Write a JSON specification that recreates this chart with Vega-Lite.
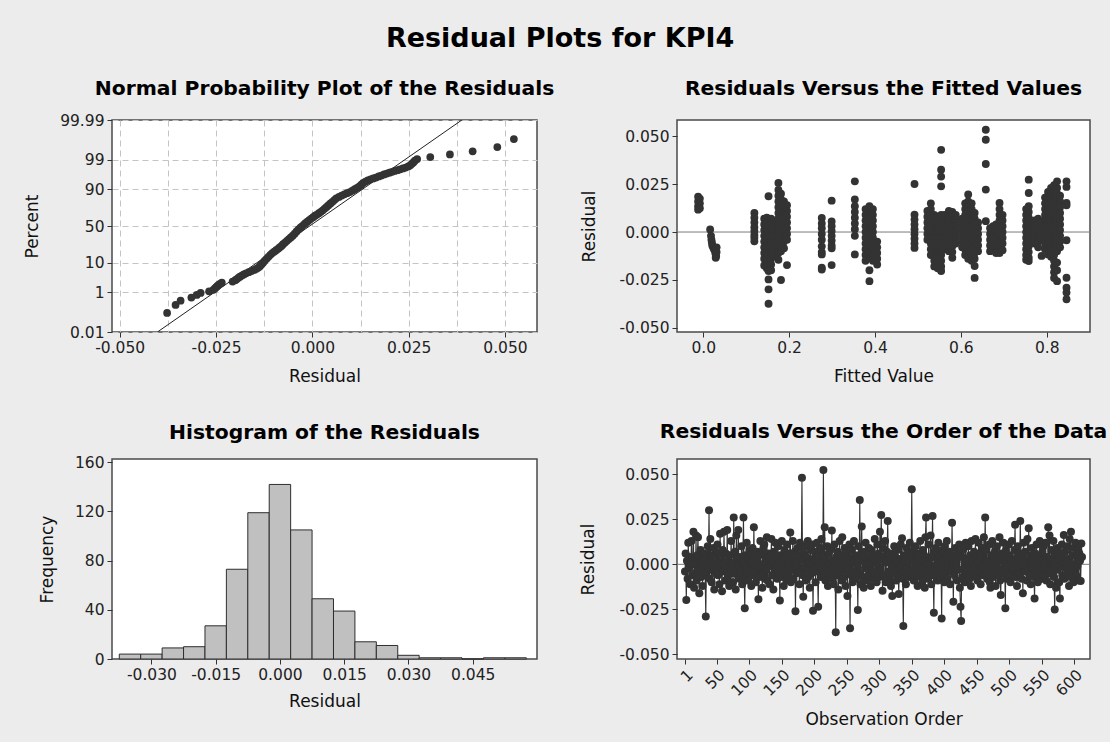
{
  "$schema": "https://vega.github.io/schema/vega-lite/v6.json",
  "background": "#ECECEC",
  "padding": {"left": 22, "top": 25, "right": 2, "bottom": 14},
  "title": {"text": "Residual Plots for KPI4", "fontSize": 27, "anchor": "middle", "frame": "bounds", "baseline": "alphabetic", "dx": -5, "offset": 3.8},
  "columns": 2,
  "spacing": {"row": 127, "column": 140},
  "bounds": "flush",
  "datasets": {
    "ord": [
      {"o":1,"r":-0.004},{"o":2,"r":0.006},{"o":3,"r":-0.0198},{"o":4,"r":0.002},{"o":5,"r":-0.008},{"o":6,"r":0.012},{"o":7,"r":-0.002},{"o":8,"r":0.004},{"o":9,"r":-0.011},{"o":10,"r":0.001},
      {"o":11,"r":0.013},{"o":12,"r":-0.006},{"o":13,"r":0.003},{"o":14,"r":0.018},{"o":15,"r":-0.013},{"o":16,"r":0},{"o":17,"r":-0.005},{"o":18,"r":0.016},{"o":19,"r":-0.009},{"o":20,"r":0.005},
      {"o":21,"r":0.015},{"o":22,"r":-0.003},{"o":23,"r":-0.016},{"o":24,"r":0.002},{"o":25,"r":0.008},{"o":26,"r":-0.007},{"o":27,"r":0.001},{"o":28,"r":-0.012},{"o":29,"r":0.004},{"o":30,"r":-0.002},
      {"o":31,"r":0.006},{"o":32,"r":-0.006},{"o":33,"r":-0.029},{"o":34,"r":0.003},{"o":35,"r":-0.004},{"o":36,"r":0.010},{"o":37,"r":-0.001},{"o":38,"r":0.030},{"o":39,"r":-0.008},{"o":40,"r":0.014},
      {"o":41,"r":0.002},{"o":42,"r":-0.010},{"o":43,"r":0.005},{"o":44,"r":-0.003},{"o":45,"r":0.009},{"o":46,"r":-0.014},{"o":47,"r":0.001},{"o":48,"r":-0.005},{"o":49,"r":0.007},{"o":50,"r":-0.002},
      {"o":51,"r":0.011},{"o":52,"r":-0.006},{"o":53,"r":0.003},{"o":54,"r":-0.011},{"o":55,"r":0.017},{"o":56,"r":-0.001},{"o":57,"r":0.004},{"o":58,"r":-0.015},{"o":59,"r":0.008},{"o":60,"r":-0.004},
      {"o":61,"r":0.018},{"o":62,"r":0},{"o":63,"r":-0.009},{"o":64,"r":0.006},{"o":65,"r":-0.003},{"o":66,"r":0.019},{"o":67,"r":-0.007},{"o":68,"r":0.002},{"o":69,"r":-0.012},{"o":70,"r":0.005},
      {"o":71,"r":-0.002},{"o":72,"r":0.013},{"o":73,"r":-0.005},{"o":74,"r":0.001},{"o":75,"r":-0.010},{"o":76,"r":0.026},{"o":77,"r":-0.003},{"o":78,"r":0.007},{"o":79,"r":-0.014},{"o":80,"r":0.016},
      {"o":81,"r":0.003},{"o":82,"r":-0.006},{"o":83,"r":0.019},{"o":84,"r":-0.001},{"o":85,"r":-0.008},{"o":86,"r":0.004},{"o":87,"r":-0.004},{"o":88,"r":0.010},{"o":89,"r":-0.011},{"o":90,"r":0.002},
      {"o":91,"r":0.026},{"o":92,"r":-0.007},{"o":93,"r":-0.0244},{"o":94,"r":0.005},{"o":95,"r":-0.002},{"o":96,"r":0.012},{"o":97,"r":-0.009},{"o":98,"r":0.003},{"o":99,"r":-0.005},{"o":100,"r":0.008},
      {"o":101,"r":-0.003},{"o":102,"r":0.006},{"o":103,"r":-0.012},{"o":104,"r":0.001},{"o":105,"r":0.009},{"o":106,"r":-0.006},{"o":107,"r":0.0205},{"o":108,"r":-0.004},{"o":109,"r":0.004},{"o":110,"r":-0.010},
      {"o":111,"r":0.002},{"o":112,"r":0.007},{"o":113,"r":-0.001},{"o":114,"r":-0.0194},{"o":115,"r":0.005},{"o":116,"r":-0.007},{"o":117,"r":0.013},{"o":118,"r":-0.002},{"o":119,"r":0},{"o":120,"r":-0.013},
      {"o":121,"r":0.008},{"o":122,"r":-0.005},{"o":123,"r":0.011},{"o":124,"r":-0.008},{"o":125,"r":0.003},{"o":126,"r":-0.003},{"o":127,"r":0.015},{"o":128,"r":-0.009},{"o":129,"r":0.001},{"o":130,"r":0.006},
      {"o":131,"r":-0.011},{"o":132,"r":0.004},{"o":133,"r":-0.001},{"o":134,"r":0.014},{"o":135,"r":-0.006},{"o":136,"r":0.002},{"o":137,"r":-0.014},{"o":138,"r":0.007},{"o":139,"r":-0.004},{"o":140,"r":0.012},
      {"o":141,"r":-0.002},{"o":142,"r":0.003},{"o":143,"r":-0.008},{"o":144,"r":0.010},{"o":145,"r":-0.005},{"o":146,"r":0.001},{"o":147,"r":-0.020},{"o":148,"r":0.005},{"o":149,"r":-0.003},{"o":150,"r":0.013},
      {"o":151,"r":-0.007},{"o":152,"r":0.002},{"o":153,"r":-0.012},{"o":154,"r":0.008},{"o":155,"r":-0.001},{"o":156,"r":0.004},{"o":157,"r":-0.009},{"o":158,"r":0.011},{"o":159,"r":-0.004},{"o":160,"r":0},
      {"o":161,"r":-0.006},{"o":162,"r":0.006},{"o":163,"r":0.0177},{"o":164,"r":-0.010},{"o":165,"r":0.003},{"o":166,"r":-0.003},{"o":167,"r":0.013},{"o":168,"r":-0.008},{"o":169,"r":0.001},{"o":170,"r":0.007},
      {"o":171,"r":-0.026},{"o":172,"r":0.002},{"o":173,"r":-0.005},{"o":174,"r":0.009},{"o":175,"r":-0.002},{"o":176,"r":0.005},{"o":177,"r":-0.011},{"o":178,"r":0.012},{"o":179,"r":-0.004},{"o":180,"r":0.003},
      {"o":181,"r":0.048},{"o":182,"r":-0.006},{"o":183,"r":-0.018},{"o":184,"r":0.006},{"o":185,"r":-0.001},{"o":186,"r":0.010},{"o":187,"r":-0.009},{"o":188,"r":0.004},{"o":189,"r":-0.003},{"o":190,"r":0.013},
      {"o":191,"r":-0.007},{"o":192,"r":0.001},{"o":193,"r":-0.013},{"o":194,"r":0.008},{"o":195,"r":0},{"o":196,"r":-0.005},{"o":197,"r":0.011},{"o":198,"r":-0.0257},{"o":199,"r":0.003},{"o":200,"r":-0.002},
      {"o":201,"r":0.007},{"o":202,"r":-0.010},{"o":203,"r":0.002},{"o":204,"r":0.012},{"o":205,"r":-0.004},{"o":206,"r":-0.0235},{"o":207,"r":0.005},{"o":208,"r":-0.001},{"o":209,"r":0.009},{"o":210,"r":-0.007},
      {"o":211,"r":0.014},{"o":212,"r":-0.003},{"o":213,"r":0.001},{"o":214,"r":0.0523},{"o":215,"r":-0.006},{"o":216,"r":0.0205},{"o":217,"r":-0.009},{"o":218,"r":0.003},{"o":219,"r":-0.002},{"o":220,"r":0.010},
      {"o":221,"r":-0.012},{"o":222,"r":0.006},{"o":223,"r":0},{"o":224,"r":-0.005},{"o":225,"r":0.008},{"o":226,"r":-0.008},{"o":227,"r":0.0187},{"o":228,"r":-0.003},{"o":229,"r":0.002},{"o":230,"r":-0.011},
      {"o":231,"r":0.011},{"o":232,"r":-0.001},{"o":233,"r":-0.0377},{"o":234,"r":0.004},{"o":235,"r":-0.006},{"o":236,"r":0.007},{"o":237,"r":-0.014},{"o":238,"r":0.001},{"o":239,"r":0.013},{"o":240,"r":-0.004},
      {"o":241,"r":0.005},{"o":242,"r":-0.009},{"o":243,"r":0.015},{"o":244,"r":-0.002},{"o":245,"r":0.003},{"o":246,"r":-0.007},{"o":247,"r":0.009},{"o":248,"r":-0.012},{"o":249,"r":0},{"o":250,"r":0.006},
      {"o":251,"r":-0.0176},{"o":252,"r":0.004},{"o":253,"r":-0.003},{"o":254,"r":0.011},{"o":255,"r":-0.0355},{"o":256,"r":0.002},{"o":257,"r":-0.006},{"o":258,"r":0.008},{"o":259,"r":-0.010},{"o":260,"r":0.001},
      {"o":261,"r":0.013},{"o":262,"r":-0.004},{"o":263,"r":0.005},{"o":264,"r":-0.008},{"o":265,"r":0.003},{"o":266,"r":-0.001},{"o":267,"r":-0.0253},{"o":268,"r":0.010},{"o":269,"r":-0.005},{"o":270,"r":0.0357},
      {"o":271,"r":-0.011},{"o":272,"r":0.006},{"o":273,"r":0.021},{"o":274,"r":-0.007},{"o":275,"r":0.002},{"o":276,"r":-0.013},{"o":277,"r":0.007},{"o":278,"r":-0.002},{"o":279,"r":0.012},{"o":280,"r":-0.009},
      {"o":281,"r":0},{"o":282,"r":0.004},{"o":283,"r":-0.006},{"o":284,"r":0.009},{"o":285,"r":-0.003},{"o":286,"r":0.001},{"o":287,"r":-0.012},{"o":288,"r":0.008},{"o":289,"r":-0.004},{"o":290,"r":0.005},
      {"o":291,"r":-0.008},{"o":292,"r":0.003},{"o":293,"r":0.014},{"o":294,"r":-0.005},{"o":295,"r":0.002},{"o":296,"r":-0.010},{"o":297,"r":0.011},{"o":298,"r":-0.001},{"o":299,"r":0.006},{"o":300,"r":-0.007},
      {"o":301,"r":0.018},{"o":302,"r":-0.003},{"o":303,"r":0.0274},{"o":304,"r":0.004},{"o":305,"r":-0.0146},{"o":306,"r":0.009},{"o":307,"r":-0.006},{"o":308,"r":0.002},{"o":309,"r":0.013},{"o":310,"r":-0.010},
      {"o":311,"r":0.001},{"o":312,"r":0.007},{"o":313,"r":0.024},{"o":314,"r":-0.004},{"o":315,"r":0.005},{"o":316,"r":-0.008},{"o":317,"r":0.003},{"o":318,"r":-0.012},{"o":319,"r":0},{"o":320,"r":-0.0176},
      {"o":321,"r":0.006},{"o":322,"r":-0.002},{"o":323,"r":0.010},{"o":324,"r":-0.005},{"o":325,"r":0.004},{"o":326,"r":-0.009},{"o":327,"r":0.001},{"o":328,"r":0.008},{"o":329,"r":-0.003},{"o":330,"r":-0.0165},
      {"o":331,"r":0.003},{"o":332,"r":-0.006},{"o":333,"r":0.011},{"o":334,"r":-0.001},{"o":335,"r":0.0144},{"o":336,"r":-0.008},{"o":337,"r":-0.0342},{"o":338,"r":0.005},{"o":339,"r":-0.004},{"o":340,"r":0.002},
      {"o":341,"r":-0.011},{"o":342,"r":0.009},{"o":343,"r":-0.002},{"o":344,"r":0.006},{"o":345,"r":-0.007},{"o":346,"r":0.001},{"o":347,"r":0.012},{"o":348,"r":-0.005},{"o":349,"r":0.004},{"o":350,"r":0.0416},
      {"o":351,"r":-0.003},{"o":352,"r":0.007},{"o":353,"r":-0.009},{"o":354,"r":0.002},{"o":355,"r":-0.006},{"o":356,"r":0.010},{"o":357,"r":-0.001},{"o":358,"r":0.004},{"o":359,"r":-0.012},{"o":360,"r":0.006},
      {"o":361,"r":-0.004},{"o":362,"r":0.001},{"o":363,"r":0.013},{"o":364,"r":-0.007},{"o":365,"r":0.003},{"o":366,"r":-0.010},{"o":367,"r":0.008},{"o":368,"r":-0.002},{"o":369,"r":0.005},{"o":370,"r":-0.013},
      {"o":371,"r":0.015},{"o":372,"r":0.026},{"o":373,"r":-0.005},{"o":374,"r":0.002},{"o":375,"r":-0.008},{"o":376,"r":0.011},{"o":377,"r":0},{"o":378,"r":-0.003},{"o":379,"r":0.016},{"o":380,"r":-0.011},
      {"o":381,"r":0.004},{"o":382,"r":0.0268},{"o":383,"r":-0.006},{"o":384,"r":-0.0268},{"o":385,"r":0.007},{"o":386,"r":-0.001},{"o":387,"r":0.009},{"o":388,"r":-0.004},{"o":389,"r":0.003},{"o":390,"r":-0.009},
      {"o":391,"r":0.012},{"o":392,"r":-0.002},{"o":393,"r":0.005},{"o":394,"r":-0.007},{"o":395,"r":0.001},{"o":396,"r":-0.030},{"o":397,"r":0.008},{"o":398,"r":-0.003},{"o":399,"r":0.006},{"o":400,"r":-0.010},
      {"o":401,"r":0.010},{"o":402,"r":-0.005},{"o":403,"r":0.003},{"o":404,"r":0.013},{"o":405,"r":-0.008},{"o":406,"r":0.001},{"o":407,"r":-0.002},{"o":408,"r":0.007},{"o":409,"r":-0.011},{"o":410,"r":0.004},
      {"o":411,"r":-0.004},{"o":412,"r":0.0231},{"o":413,"r":0},{"o":414,"r":-0.0207},{"o":415,"r":0.005},{"o":416,"r":-0.006},{"o":417,"r":0.009},{"o":418,"r":-0.001},{"o":419,"r":0.002},{"o":420,"r":-0.009},
      {"o":421,"r":0.006},{"o":422,"r":-0.003},{"o":423,"r":0.011},{"o":424,"r":-0.013},{"o":425,"r":-0.0235},{"o":426,"r":-0.0314},{"o":427,"r":0.004},{"o":428,"r":-0.007},{"o":429,"r":0.008},{"o":430,"r":-0.002},
      {"o":431,"r":0.001},{"o":432,"r":-0.010},{"o":433,"r":0.012},{"o":434,"r":-0.004},{"o":435,"r":0.003},{"o":436,"r":-0.006},{"o":437,"r":0.010},{"o":438,"r":0},{"o":439,"r":-0.008},{"o":440,"r":0.005},
      {"o":441,"r":-0.012},{"o":442,"r":0.013},{"o":443,"r":-0.003},{"o":444,"r":0.002},{"o":445,"r":-0.005},{"o":446,"r":0.007},{"o":447,"r":-0.001},{"o":448,"r":0.014},{"o":449,"r":-0.007},{"o":450,"r":0.004},
      {"o":451,"r":-0.009},{"o":452,"r":0.001},{"o":453,"r":0.012},{"o":454,"r":-0.004},{"o":455,"r":0.006},{"o":456,"r":-0.011},{"o":457,"r":0.003},{"o":458,"r":-0.002},{"o":459,"r":0.009},{"o":460,"r":-0.006},
      {"o":461,"r":0.015},{"o":462,"r":0},{"o":463,"r":0.026},{"o":464,"r":-0.005},{"o":465,"r":0.008},{"o":466,"r":-0.008},{"o":467,"r":0.002},{"o":468,"r":-0.003},{"o":469,"r":0.011},{"o":470,"r":-0.010},
      {"o":471,"r":-0.013},{"o":472,"r":0.005},{"o":473,"r":-0.001},{"o":474,"r":0.013},{"o":475,"r":-0.007},{"o":476,"r":0.004},{"o":477,"r":-0.004},{"o":478,"r":0.007},{"o":479,"r":-0.012},{"o":480,"r":0.001},
      {"o":481,"r":0.010},{"o":482,"r":-0.002},{"o":483,"r":0.003},{"o":484,"r":-0.006},{"o":485,"r":0.015},{"o":486,"r":-0.009},{"o":487,"r":-0.017},{"o":488,"r":0.006},{"o":489,"r":-0.003},{"o":490,"r":0.002},
      {"o":491,"r":0.012},{"o":492,"r":-0.005},{"o":493,"r":0},{"o":494,"r":-0.0244},{"o":495,"r":0.008},{"o":496,"r":-0.008},{"o":497,"r":0.004},{"o":498,"r":-0.001},{"o":499,"r":0.011},{"o":500,"r":-0.004},
      {"o":501,"r":0.005},{"o":502,"r":-0.010},{"o":503,"r":0.002},{"o":504,"r":0.013},{"o":505,"r":-0.006},{"o":506,"r":0.001},{"o":507,"r":-0.003},{"o":508,"r":0.008},{"o":509,"r":0.022},{"o":510,"r":-0.007},
      {"o":511,"r":0.003},{"o":512,"r":-0.012},{"o":513,"r":0.010},{"o":514,"r":-0.002},{"o":515,"r":0.006},{"o":516,"r":-0.005},{"o":517,"r":0.024},{"o":518,"r":0},{"o":519,"r":-0.008},{"o":520,"r":0.004},
      {"o":521,"r":-0.016},{"o":522,"r":0.012},{"o":523,"r":-0.001},{"o":524,"r":0.007},{"o":525,"r":-0.004},{"o":526,"r":0.002},{"o":527,"r":-0.009},{"o":528,"r":0.014},{"o":529,"r":-0.003},{"o":530,"r":0.020},
      {"o":531,"r":-0.006},{"o":532,"r":0.005},{"o":533,"r":-0.011},{"o":534,"r":0.001},{"o":535,"r":0.009},{"o":536,"r":-0.002},{"o":537,"r":0.003},{"o":538,"r":-0.007},{"o":539,"r":-0.0189},{"o":540,"r":0.006},
      {"o":541,"r":-0.004},{"o":542,"r":0.011},{"o":543,"r":0},{"o":544,"r":-0.010},{"o":545,"r":0.004},{"o":546,"r":-0.005},{"o":547,"r":0.013},{"o":548,"r":-0.001},{"o":549,"r":0.002},{"o":550,"r":-0.008},
      {"o":551,"r":0.007},{"o":552,"r":-0.003},{"o":553,"r":0.010},{"o":554,"r":-0.006},{"o":555,"r":0.001},{"o":556,"r":0.012},{"o":557,"r":-0.009},{"o":558,"r":0.004},{"o":559,"r":-0.002},{"o":560,"r":0.0205},
      {"o":561,"r":-0.005},{"o":562,"r":0.016},{"o":563,"r":-0.011},{"o":564,"r":0.003},{"o":565,"r":0.008},{"o":566,"r":-0.004},{"o":567,"r":0},{"o":568,"r":0.013},{"o":569,"r":-0.007},{"o":570,"r":-0.025},
      {"o":571,"r":0.005},{"o":572,"r":-0.013},{"o":573,"r":0.002},{"o":574,"r":0.009},{"o":575,"r":-0.003},{"o":576,"r":0.006},{"o":577,"r":-0.010},{"o":578,"r":-0.019},{"o":579,"r":0.004},{"o":580,"r":-0.001},
      {"o":581,"r":0.011},{"o":582,"r":-0.006},{"o":583,"r":0.002},{"o":584,"r":0.0163},{"o":585,"r":-0.008},{"o":586,"r":0.007},{"o":587,"r":-0.002},{"o":588,"r":0.001},{"o":589,"r":0.010},{"o":590,"r":-0.005},
      {"o":591,"r":0.003},{"o":592,"r":-0.012},{"o":593,"r":0.014},{"o":594,"r":-0.004},{"o":595,"r":0.018},{"o":596,"r":-0.007},{"o":597,"r":0.005},{"o":598,"r":0},{"o":599,"r":-0.010},{"o":600,"r":0.009},
      {"o":601,"r":-0.003},{"o":602,"r":0.012},{"o":603,"r":-0.006},{"o":604,"r":0.004},{"o":605,"r":-0.001},{"o":606,"r":0.008},{"o":607,"r":-0.009},{"o":608,"r":0.006},{"o":609,"r":0.002},{"o":610,"r":-0.0092},
      {"o":611,"r":0.0116},{"o":612,"r":0.004}
    ],
    "fit": [
      {"f":-0.012,"r":0.0185},{"f":-0.012,"r":0.016},{"f":-0.012,"r":0.0135},{"f":-0.012,"r":0.0117},{"f":-0.008,"r":0.0175},{"f":-0.008,"r":0.015},{"f":-0.008,"r":0.0125},
      {"f":0.016,"r":0.0013},{"f":0.018,"r":-0.002},{"f":0.019,"r":-0.004},{"f":0.02,"r":-0.0055},{"f":0.021,"r":-0.007},{"f":0.023,"r":-0.008},{"f":0.025,"r":-0.009},{"f":0.027,"r":-0.0095},{"f":0.028,"r":-0.011},{"f":0.03,"r":-0.0125},{"f":0.029,"r":-0.0135},{"f":0.031,"r":-0.008},{"f":0.031,"r":-0.0105},
      {"f":0.119,"r":0.010},{"f":0.119,"r":0.0075},{"f":0.119,"r":0.005},{"f":0.119,"r":0.0025},{"f":0.119,"r":0.0005},{"f":0.119,"r":-0.0015},{"f":0.119,"r":-0.003},{"f":0.119,"r":-0.0048},
      {"f":0.142,"r":0.007},{"f":0.142,"r":0.004},{"f":0.142,"r":0.001},{"f":0.142,"r":-0.002},{"f":0.142,"r":-0.005},{"f":0.142,"r":-0.008},{"f":0.142,"r":-0.011},{"f":0.142,"r":-0.014},{"f":0.142,"r":-0.0175},
      {"f":0.148,"r":0.0075},{"f":0.148,"r":0.0045},{"f":0.148,"r":0.0015},{"f":0.148,"r":-0.0015},{"f":0.148,"r":-0.0045},{"f":0.148,"r":-0.0075},{"f":0.148,"r":-0.0105},{"f":0.148,"r":-0.0135},{"f":0.148,"r":-0.0165},{"f":0.148,"r":-0.019},
      {"f":0.152,"r":0.0187},{"f":0.152,"r":0.006},{"f":0.152,"r":0.003},{"f":0.152,"r":0},{"f":0.152,"r":-0.003},{"f":0.152,"r":-0.006},{"f":0.152,"r":-0.009},{"f":0.152,"r":-0.012},{"f":0.152,"r":-0.015},{"f":0.152,"r":-0.018},{"f":0.152,"r":-0.0204},{"f":0.152,"r":-0.0248},{"f":0.152,"r":-0.030},{"f":0.152,"r":-0.0375},
      {"f":0.158,"r":0.007},{"f":0.158,"r":0.004},{"f":0.158,"r":0.001},{"f":0.158,"r":-0.002},{"f":0.158,"r":-0.005},{"f":0.158,"r":-0.008},{"f":0.158,"r":-0.011},{"f":0.158,"r":-0.014},{"f":0.158,"r":-0.017},{"f":0.158,"r":-0.020},
      {"f":0.164,"r":0.006},{"f":0.164,"r":0.003},{"f":0.164,"r":0},{"f":0.164,"r":-0.003},{"f":0.164,"r":-0.006},{"f":0.164,"r":-0.009},{"f":0.164,"r":-0.012},
      {"f":0.175,"r":0.0257},{"f":0.175,"r":0.022},{"f":0.175,"r":0.019},{"f":0.175,"r":0.016},{"f":0.175,"r":0.013},{"f":0.175,"r":0.010},{"f":0.175,"r":0.007},{"f":0.175,"r":0.004},{"f":0.175,"r":0.001},{"f":0.175,"r":-0.002},{"f":0.175,"r":-0.005},{"f":0.175,"r":-0.008},{"f":0.175,"r":-0.011},{"f":0.175,"r":-0.0145},
      {"f":0.181,"r":0.020},{"f":0.181,"r":0.017},{"f":0.181,"r":0.014},{"f":0.181,"r":0.011},{"f":0.181,"r":0.008},{"f":0.181,"r":0.005},{"f":0.181,"r":0.002},{"f":0.181,"r":-0.001},{"f":0.181,"r":-0.004},{"f":0.181,"r":-0.007},{"f":0.181,"r":-0.010},{"f":0.181,"r":-0.0251},
      {"f":0.188,"r":0.016},{"f":0.188,"r":0.013},{"f":0.188,"r":0.010},{"f":0.188,"r":0.007},{"f":0.188,"r":0.004},{"f":0.188,"r":0.001},{"f":0.188,"r":-0.002},{"f":0.188,"r":-0.005},{"f":0.188,"r":-0.0085},
      {"f":0.195,"r":0.014},{"f":0.195,"r":0.011},{"f":0.195,"r":0.008},{"f":0.195,"r":0.005},{"f":0.195,"r":0.002},{"f":0.195,"r":-0.001},{"f":0.195,"r":-0.004},{"f":0.195,"r":-0.0173},
      {"f":0.276,"r":0.0074},{"f":0.276,"r":0.0045},{"f":0.276,"r":0.002},{"f":0.276,"r":-0.001},{"f":0.276,"r":-0.004},{"f":0.276,"r":-0.0075},{"f":0.276,"r":-0.0105},{"f":0.276,"r":-0.0117},{"f":0.276,"r":-0.0187},{"f":0.276,"r":-0.0196},
      {"f":0.299,"r":0.0164},{"f":0.299,"r":0.0055},{"f":0.299,"r":0.003},{"f":0.299,"r":0.0005},{"f":0.299,"r":-0.002},{"f":0.299,"r":-0.0045},{"f":0.299,"r":-0.007},{"f":0.299,"r":-0.0085},{"f":0.299,"r":-0.0173},
      {"f":0.353,"r":0.0265},{"f":0.353,"r":0.017},{"f":0.353,"r":0.0135},{"f":0.353,"r":0.0105},{"f":0.353,"r":0.0075},{"f":0.353,"r":0.0045},{"f":0.353,"r":0.0015},{"f":0.353,"r":-0.002},{"f":0.353,"r":-0.0117},
      {"f":0.378,"r":0.012},{"f":0.378,"r":0.009},{"f":0.378,"r":0.006},{"f":0.378,"r":0.003},{"f":0.378,"r":0},{"f":0.378,"r":-0.003},{"f":0.378,"r":-0.006},{"f":0.378,"r":-0.009},{"f":0.378,"r":-0.012},{"f":0.378,"r":-0.015},
      {"f":0.387,"r":0.0135},{"f":0.387,"r":0.0105},{"f":0.387,"r":0.0075},{"f":0.387,"r":0.0045},{"f":0.387,"r":0.0015},{"f":0.387,"r":-0.0015},{"f":0.387,"r":-0.0045},{"f":0.387,"r":-0.0075},{"f":0.387,"r":-0.0105},{"f":0.387,"r":-0.0135},{"f":0.387,"r":-0.020},{"f":0.387,"r":-0.0257},
      {"f":0.395,"r":0.012},{"f":0.395,"r":0.009},{"f":0.395,"r":0.006},{"f":0.395,"r":0.003},{"f":0.395,"r":0},{"f":0.395,"r":-0.003},{"f":0.395,"r":-0.006},{"f":0.395,"r":-0.009},{"f":0.395,"r":-0.012},{"f":0.395,"r":-0.015},
      {"f":0.405,"r":-0.005},{"f":0.405,"r":-0.008},{"f":0.405,"r":-0.011},{"f":0.405,"r":-0.014},{"f":0.405,"r":-0.017},
      {"f":0.492,"r":0.0251},{"f":0.492,"r":0.0091},{"f":0.492,"r":0.0065},{"f":0.492,"r":0.004},{"f":0.492,"r":0.0015},{"f":0.492,"r":-0.001},{"f":0.492,"r":-0.0035},{"f":0.492,"r":-0.006},{"f":0.492,"r":-0.0083},
      {"f":0.522,"r":0.011},{"f":0.522,"r":0.008},{"f":0.522,"r":0.005},{"f":0.522,"r":0.002},{"f":0.522,"r":-0.001},{"f":0.522,"r":-0.004},
      {"f":0.53,"r":0.015},{"f":0.53,"r":0.012},{"f":0.53,"r":0.009},{"f":0.53,"r":0.006},{"f":0.53,"r":0.003},{"f":0.53,"r":0},{"f":0.53,"r":-0.003},{"f":0.53,"r":-0.006},{"f":0.53,"r":-0.009},{"f":0.53,"r":-0.012},
      {"f":0.538,"r":0.009},{"f":0.538,"r":0.006},{"f":0.538,"r":0.003},{"f":0.538,"r":0},{"f":0.538,"r":-0.003},{"f":0.538,"r":-0.006},{"f":0.538,"r":-0.009},{"f":0.538,"r":-0.012},{"f":0.538,"r":-0.015},{"f":0.538,"r":-0.018},
      {"f":0.546,"r":0.008},{"f":0.546,"r":0.005},{"f":0.546,"r":0.002},{"f":0.546,"r":-0.001},{"f":0.546,"r":-0.004},{"f":0.546,"r":-0.007},{"f":0.546,"r":-0.010},{"f":0.546,"r":-0.013},{"f":0.546,"r":-0.016},{"f":0.546,"r":-0.019},
      {"f":0.554,"r":0.043},{"f":0.554,"r":0.0326},{"f":0.554,"r":0.029},{"f":0.554,"r":0.0239},{"f":0.554,"r":0.009},{"f":0.554,"r":0.006},{"f":0.554,"r":0.003},{"f":0.554,"r":0},{"f":0.554,"r":-0.003},{"f":0.554,"r":-0.006},{"f":0.554,"r":-0.009},{"f":0.554,"r":-0.012},{"f":0.554,"r":-0.015},{"f":0.554,"r":-0.018},{"f":0.554,"r":-0.0204},
      {"f":0.562,"r":0.009},{"f":0.562,"r":0.006},{"f":0.562,"r":0.003},{"f":0.562,"r":0},{"f":0.562,"r":-0.003},{"f":0.562,"r":-0.006},{"f":0.562,"r":-0.009},
      {"f":0.572,"r":0.011},{"f":0.572,"r":0.008},{"f":0.572,"r":0.005},{"f":0.572,"r":0.002},{"f":0.572,"r":-0.001},{"f":0.572,"r":-0.004},{"f":0.572,"r":-0.007},{"f":0.572,"r":-0.010},
      {"f":0.58,"r":0.0105},{"f":0.58,"r":0.0075},{"f":0.58,"r":0.0045},{"f":0.58,"r":0.0015},{"f":0.58,"r":-0.0015},{"f":0.58,"r":-0.0045},{"f":0.58,"r":-0.0075},{"f":0.58,"r":-0.0105},{"f":0.58,"r":-0.0135},
      {"f":0.588,"r":0.009},{"f":0.588,"r":0.006},{"f":0.588,"r":0.003},{"f":0.588,"r":0},{"f":0.588,"r":-0.003},{"f":0.588,"r":-0.006},
      {"f":0.603,"r":0.007},{"f":0.603,"r":0.004},{"f":0.603,"r":0.001},{"f":0.603,"r":-0.002},{"f":0.603,"r":-0.005},{"f":0.603,"r":-0.008},
      {"f":0.61,"r":0.015},{"f":0.61,"r":0.012},{"f":0.61,"r":0.009},{"f":0.61,"r":0.006},{"f":0.61,"r":0.003},{"f":0.61,"r":0},{"f":0.61,"r":-0.003},{"f":0.61,"r":-0.006},{"f":0.61,"r":-0.009},{"f":0.61,"r":-0.012},
      {"f":0.617,"r":0.0196},{"f":0.617,"r":0.016},{"f":0.617,"r":0.013},{"f":0.617,"r":0.010},{"f":0.617,"r":0.007},{"f":0.617,"r":0.004},{"f":0.617,"r":0.001},{"f":0.617,"r":-0.002},{"f":0.617,"r":-0.005},{"f":0.617,"r":-0.008},{"f":0.617,"r":-0.011},{"f":0.617,"r":-0.014},
      {"f":0.625,"r":0.015},{"f":0.625,"r":0.012},{"f":0.625,"r":0.009},{"f":0.625,"r":0.006},{"f":0.625,"r":0.003},{"f":0.625,"r":0},{"f":0.625,"r":-0.003},{"f":0.625,"r":-0.006},{"f":0.625,"r":-0.009},{"f":0.625,"r":-0.012},{"f":0.625,"r":-0.015},
      {"f":0.632,"r":0.010},{"f":0.632,"r":0.007},{"f":0.632,"r":0.004},{"f":0.632,"r":0.001},{"f":0.632,"r":-0.002},{"f":0.632,"r":-0.005},{"f":0.632,"r":-0.008},{"f":0.632,"r":-0.011},{"f":0.632,"r":-0.014},{"f":0.632,"r":-0.0178},{"f":0.632,"r":-0.024},
      {"f":0.64,"r":0.005},{"f":0.64,"r":0.002},{"f":0.64,"r":-0.001},{"f":0.64,"r":-0.004},{"f":0.64,"r":-0.007},{"f":0.64,"r":-0.010},
      {"f":0.658,"r":0.0535},{"f":0.658,"r":0.0483},{"f":0.658,"r":0.0356},{"f":0.658,"r":0.0222},{"f":0.658,"r":0.0057},
      {"f":0.668,"r":0.002},{"f":0.668,"r":-0.001},{"f":0.668,"r":-0.004},{"f":0.668,"r":-0.007},{"f":0.668,"r":-0.010},
      {"f":0.675,"r":0.003},{"f":0.675,"r":0},{"f":0.675,"r":-0.003},{"f":0.675,"r":-0.006},{"f":0.675,"r":-0.009},
      {"f":0.682,"r":0.004},{"f":0.682,"r":0.001},{"f":0.682,"r":-0.002},{"f":0.682,"r":-0.005},{"f":0.682,"r":-0.008},{"f":0.682,"r":-0.011},
      {"f":0.69,"r":0.0152},{"f":0.69,"r":0.012},{"f":0.69,"r":0.009},{"f":0.69,"r":0.006},{"f":0.69,"r":0.003},{"f":0.69,"r":0},{"f":0.69,"r":-0.003},{"f":0.69,"r":-0.006},{"f":0.69,"r":-0.009},{"f":0.69,"r":-0.011},
      {"f":0.697,"r":0.009},{"f":0.697,"r":0.006},{"f":0.697,"r":0.003},{"f":0.697,"r":0},{"f":0.697,"r":-0.003},{"f":0.697,"r":-0.006},{"f":0.697,"r":-0.0095},
      {"f":0.752,"r":0.012},{"f":0.752,"r":0.009},{"f":0.752,"r":0.006},{"f":0.752,"r":0.003},{"f":0.752,"r":0},{"f":0.752,"r":-0.003},{"f":0.752,"r":-0.006},{"f":0.752,"r":-0.009},{"f":0.752,"r":-0.012},{"f":0.752,"r":-0.0145},
      {"f":0.758,"r":0.0274},{"f":0.758,"r":0.0204},{"f":0.758,"r":0.0135},{"f":0.758,"r":0.0105},{"f":0.758,"r":0.0075},{"f":0.758,"r":0.0045},{"f":0.758,"r":0.0015},{"f":0.758,"r":-0.0015},{"f":0.758,"r":-0.0045},{"f":0.758,"r":-0.0075},{"f":0.758,"r":-0.0105},{"f":0.758,"r":-0.0135},{"f":0.758,"r":-0.0152},
      {"f":0.772,"r":0.006},{"f":0.772,"r":0.003},{"f":0.772,"r":0},{"f":0.772,"r":-0.003},{"f":0.772,"r":-0.006},
      {"f":0.78,"r":0.007},{"f":0.78,"r":0.004},{"f":0.78,"r":0.001},{"f":0.78,"r":-0.002},{"f":0.78,"r":-0.005},{"f":0.78,"r":-0.008},
      {"f":0.788,"r":0.005},{"f":0.788,"r":0.002},{"f":0.788,"r":-0.001},{"f":0.788,"r":-0.004},{"f":0.788,"r":-0.0125},
      {"f":0.796,"r":0.018},{"f":0.796,"r":0.015},{"f":0.796,"r":0.012},{"f":0.796,"r":0.009},{"f":0.796,"r":0.006},{"f":0.796,"r":0.003},{"f":0.796,"r":0},{"f":0.796,"r":-0.003},{"f":0.796,"r":-0.006},{"f":0.796,"r":-0.009},
      {"f":0.803,"r":0.021},{"f":0.803,"r":0.018},{"f":0.803,"r":0.015},{"f":0.803,"r":0.012},{"f":0.803,"r":0.009},{"f":0.803,"r":0.006},{"f":0.803,"r":0.003},{"f":0.803,"r":0},{"f":0.803,"r":-0.003},{"f":0.803,"r":-0.006},{"f":0.803,"r":-0.0117},
      {"f":0.81,"r":0.023},{"f":0.81,"r":0.020},{"f":0.81,"r":0.017},{"f":0.81,"r":0.014},{"f":0.81,"r":0.011},{"f":0.81,"r":0.008},{"f":0.81,"r":0.005},{"f":0.81,"r":0.002},{"f":0.81,"r":-0.001},{"f":0.81,"r":-0.004},{"f":0.81,"r":-0.007},{"f":0.81,"r":-0.010},{"f":0.81,"r":-0.013},
      {"f":0.817,"r":0.0245},{"f":0.817,"r":0.021},{"f":0.817,"r":0.018},{"f":0.817,"r":0.015},{"f":0.817,"r":0.012},{"f":0.817,"r":0.009},{"f":0.817,"r":0.006},{"f":0.817,"r":0.003},{"f":0.817,"r":0},{"f":0.817,"r":-0.003},{"f":0.817,"r":-0.006},{"f":0.817,"r":-0.009},{"f":0.817,"r":-0.012},{"f":0.817,"r":-0.015},{"f":0.817,"r":-0.018},{"f":0.817,"r":-0.021},{"f":0.817,"r":-0.024},
      {"f":0.824,"r":0.0265},{"f":0.824,"r":0.023},{"f":0.824,"r":0.020},{"f":0.824,"r":0.017},{"f":0.824,"r":0.014},{"f":0.824,"r":0.011},{"f":0.824,"r":0.008},{"f":0.824,"r":0.005},{"f":0.824,"r":0.002},{"f":0.824,"r":-0.001},{"f":0.824,"r":-0.004},{"f":0.824,"r":-0.007},{"f":0.824,"r":-0.010},{"f":0.824,"r":-0.016},{"f":0.824,"r":-0.020},{"f":0.824,"r":-0.0257},
      {"f":0.831,"r":0.019},{"f":0.831,"r":0.016},{"f":0.831,"r":0.013},{"f":0.831,"r":0.010},{"f":0.831,"r":0.007},{"f":0.831,"r":0.004},{"f":0.831,"r":0.001},{"f":0.831,"r":-0.002},{"f":0.831,"r":-0.005},{"f":0.831,"r":-0.008},
      {"f":0.846,"r":0.0265},{"f":0.846,"r":0.0236},{"f":0.846,"r":0.0152},{"f":0.846,"r":0.014},{"f":0.846,"r":-0.0043},{"f":0.846,"r":-0.0239},{"f":0.846,"r":-0.0291},{"f":0.846,"r":-0.0317},{"f":0.846,"r":-0.0352}
    ],
    "npp": [
      {"r":-0.0377,"z":-3.05},{"r":-0.0355,"z":-2.77},{"r":-0.0342,"z":-2.62},{"r":-0.0314,"z":-2.51},{"r":-0.0300,"z":-2.42},{"r":-0.0290,"z":-2.35},{"r":-0.0268,"z":-2.29},{"r":-0.0257,"z":-2.24},{"r":-0.0253,"z":-2.19},{"r":-0.0250,"z":-2.15},
      {"r":-0.0247,"z":-2.11},{"r":-0.0244,"z":-2.07},{"r":-0.0240,"z":-2.03},{"r":-0.0235,"z":-1.99},{"r":-0.0207,"z":-1.95},{"r":-0.0200,"z":-1.90},{"r":-0.0196,"z":-1.86},{"r":-0.0192,"z":-1.82},{"r":-0.0188,"z":-1.78},{"r":-0.0183,"z":-1.74},
      {"r":-0.0178,"z":-1.70},{"r":-0.0172,"z":-1.66},{"r":-0.0165,"z":-1.62},{"r":-0.0158,"z":-1.58},{"r":-0.0151,"z":-1.54},{"r":-0.0145,"z":-1.50},{"r":-0.0140,"z":-1.46},{"r":-0.0136,"z":-1.41},{"r":-0.0132,"z":-1.35},{"r":-0.0128,"z":-1.29},
      {"r":-0.0124,"z":-1.22},{"r":-0.0119,"z":-1.15},{"r":-0.0114,"z":-1.08},{"r":-0.0109,"z":-1.01},{"r":-0.0104,"z":-0.95},{"r":-0.0099,"z":-0.90},{"r":-0.0094,"z":-0.85},{"r":-0.0089,"z":-0.80},{"r":-0.0085,"z":-0.75},{"r":-0.0080,"z":-0.70},
      {"r":-0.0076,"z":-0.64},{"r":-0.0071,"z":-0.58},{"r":-0.0066,"z":-0.52},{"r":-0.0061,"z":-0.46},{"r":-0.0056,"z":-0.40},{"r":-0.0051,"z":-0.34},{"r":-0.0046,"z":-0.27},{"r":-0.0041,"z":-0.19},{"r":-0.0036,"z":-0.12},{"r":-0.0031,"z":-0.06},
      {"r":-0.0027,"z":-0.01},{"r":-0.0022,"z":0.05},{"r":-0.0018,"z":0.10},{"r":-0.0013,"z":0.15},{"r":-0.0008,"z":0.21},{"r":-0.0003,"z":0.26},{"r":0.0002,"z":0.31},{"r":0.0007,"z":0.36},{"r":0.0012,"z":0.40},{"r":0.0017,"z":0.45},
      {"r":0.0022,"z":0.50},{"r":0.0027,"z":0.55},{"r":0.0032,"z":0.61},{"r":0.0037,"z":0.67},{"r":0.0042,"z":0.73},{"r":0.0047,"z":0.79},{"r":0.0052,"z":0.85},{"r":0.0057,"z":0.91},{"r":0.0062,"z":0.97},{"r":0.0069,"z":1.02},
      {"r":0.0076,"z":1.07},{"r":0.0083,"z":1.11},{"r":0.0090,"z":1.15},{"r":0.0097,"z":1.19},{"r":0.0104,"z":1.24},{"r":0.0110,"z":1.29},{"r":0.0116,"z":1.34},{"r":0.0122,"z":1.39},{"r":0.0127,"z":1.45},{"r":0.0132,"z":1.51},
      {"r":0.0138,"z":1.56},{"r":0.0144,"z":1.60},{"r":0.0151,"z":1.64},{"r":0.0158,"z":1.67},{"r":0.0165,"z":1.70},{"r":0.0172,"z":1.74},{"r":0.0179,"z":1.77},{"r":0.0186,"z":1.81},{"r":0.0193,"z":1.84},{"r":0.0200,"z":1.87},
      {"r":0.0207,"z":1.90},{"r":0.0214,"z":1.93},{"r":0.0221,"z":1.96},{"r":0.0228,"z":1.99},{"r":0.0235,"z":2.02},{"r":0.0242,"z":2.05},{"r":0.0249,"z":2.09},{"r":0.0254,"z":2.13},{"r":0.0258,"z":2.18},{"r":0.0262,"z":2.23},
      {"r":0.0266,"z":2.29},{"r":0.0272,"z":2.35},{"r":0.0306,"z":2.42},{"r":0.0357,"z":2.51},{"r":0.0416,"z":2.62},{"r":0.0480,"z":2.77},{"r":0.0523,"z":3.05}
    ],
    "npline": [{"r":-0.0402,"z":-3.719},{"r":0.0388,"z":3.719}],
    "hist": [
      {"lo":-0.0375,"hi":-0.0325,"n":4},{"lo":-0.0325,"hi":-0.0275,"n":4},{"lo":-0.0275,"hi":-0.0225,"n":9},{"lo":-0.0225,"hi":-0.0175,"n":10},
      {"lo":-0.0175,"hi":-0.0125,"n":27},{"lo":-0.0125,"hi":-0.0075,"n":73},{"lo":-0.0075,"hi":-0.0025,"n":119},{"lo":-0.0025,"hi":0.0025,"n":142},
      {"lo":0.0025,"hi":0.0075,"n":105},{"lo":0.0075,"hi":0.0125,"n":49},{"lo":0.0125,"hi":0.0175,"n":39},{"lo":0.0175,"hi":0.0225,"n":14},
      {"lo":0.0225,"hi":0.0275,"n":11},{"lo":0.0275,"hi":0.0325,"n":3},{"lo":0.0325,"hi":0.0375,"n":1},{"lo":0.0375,"hi":0.0425,"n":1},
      {"lo":0.0425,"hi":0.0475,"n":0},{"lo":0.0475,"hi":0.0525,"n":1},{"lo":0.0525,"hi":0.0575,"n":1}
    ]
  },
  "concat": [
    {
      "width": 425,
      "height": 212,
      "title": {"text": "Normal Probability Plot of the Residuals", "offset": 13.25},
      "encoding": {
        "x": {
          "field": "r", "type": "quantitative",
          "scale": {"domain": [-0.052, 0.0583], "nice": false, "zero": false},
          "axis": {
            "title": "Residual", "titleY": 49,
            "values": [-0.05, -0.0375, -0.025, -0.0125, 0, 0.0125, 0.025, 0.0375, 0.05],
            "labelOverlap": false,
            "labelExpr": "abs(datum.value * 40 - round(datum.value * 40)) < 0.01 ? format(datum.value, '.3f') : ''",
            "tickOpacity": {"condition": {"test": "abs(datum.value * 40 - round(datum.value * 40)) > 0.01", "value": 0}, "value": 1},
            "grid": true, "gridDash": [6, 4], "gridColor": "#C4C4C4", "gridWidth": 1
          }
        },
        "y": {
          "field": "z", "type": "quantitative",
          "scale": {"domain": [-3.719, 3.719], "nice": false, "zero": false},
          "axis": {
            "title": "Percent", "titleX": -75,
            "values": [-3.719, -2.326, -1.2816, 0, 1.2816, 2.326, 3.719],
            "labelOverlap": false,
            "labelExpr": "datum.value < -3 ? '0.01' : datum.value < -2 ? '1' : datum.value < -1 ? '10' : datum.value < 1 ? '50' : datum.value < 2 ? '90' : datum.value < 3 ? '99' : '99.99'",
            "grid": true, "gridDash": [6, 4], "gridColor": "#C4C4C4", "gridWidth": 1
          }
        }
      },
      "layer": [
        {
          "data": {"name": "npline"},
          "mark": {"type": "line", "color": "#222222", "strokeWidth": 1, "clip": true}
        },
        {
          "data": {"name": "npp"},
          "mark": {"type": "circle", "color": "#333333", "opacity": 1, "size": 60}
        }
      ]
    },
    {
      "width": 413,
      "height": 212,
      "title": {"text": "Residuals Versus the Fitted Values", "offset": 21},
      "layer": [
        {
          "data": {"values": [{}]},
          "mark": {"type": "rule", "color": "#7A7A7A", "strokeWidth": 1},
          "encoding": {"y": {"datum": 0, "type": "quantitative"}}
        },
        {
          "data": {"name": "fit"},
          "mark": {"type": "circle", "color": "#333333", "opacity": 1, "size": 62},
          "encoding": {
            "x": {
              "field": "f", "type": "quantitative",
              "scale": {"domain": [-0.0612, 0.9007], "nice": false, "zero": false},
              "axis": {"title": "Fitted Value", "titleY": 49, "values": [0, 0.2, 0.4, 0.6, 0.8], "format": ".1f"}
            },
            "y": {
              "field": "r", "type": "quantitative",
              "scale": {"domain": [-0.0523, 0.0586], "nice": false, "zero": false},
              "axis": {"title": "Residual", "titleX": -83, "values": [-0.05, -0.025, 0, 0.025, 0.05], "format": ".3f", "labelOverlap": false}
            }
          }
        }
      ]
    },
    {
      "width": 425,
      "height": 200,
      "title": {"text": "Histogram of the Residuals", "offset": 12.5},
      "data": {"name": "hist"},
      "mark": {"type": "bar", "fill": "#C0C0C0", "stroke": "#2E2E2E", "strokeWidth": 1},
      "encoding": {
        "x": {
          "field": "lo", "type": "quantitative",
          "scale": {"domain": [-0.0392, 0.06], "nice": false, "zero": false},
          "axis": {"title": "Residual", "titleY": 47, "values": [-0.03, -0.015, 0, 0.015, 0.03, 0.045], "format": ".3f", "labelOverlap": false}
        },
        "x2": {"field": "hi"},
        "y": {
          "field": "n", "type": "quantitative",
          "scale": {"domain": [0, 162.7], "nice": false},
          "axis": {"title": "Frequency", "titleX": -60, "values": [0, 40, 80, 120, 160], "labelOverlap": false}
        },
        "y2": {"datum": 0}
      }
    },
    {
      "width": 413,
      "height": 200,
      "title": {"text": "Residuals Versus the Order of the Data", "offset": 17},
      "layer": [
        {
          "data": {"values": [{}]},
          "mark": {"type": "rule", "color": "#7A7A7A", "strokeWidth": 1},
          "encoding": {"y": {"datum": 0, "type": "quantitative"}}
        },
        {
          "data": {"name": "ord"},
          "encoding": {
            "x": {
              "field": "o", "type": "quantitative",
              "scale": {"domain": [-11.3, 624.3], "nice": false, "zero": false},
              "axis": {"title": "Observation Order", "titleY": 65, "values": [1, 50, 100, 150, 200, 250, 300, 350, 400, 450, 500, 550, 600], "labelAngle": -45, "labelOverlap": false}
            },
            "y": {
              "field": "r", "type": "quantitative",
              "scale": {"domain": [-0.0525, 0.0584], "nice": false, "zero": false},
              "axis": {"title": "Residual", "titleX": -84, "values": [-0.05, -0.025, 0, 0.025, 0.05], "format": ".3f", "labelOverlap": false}
            }
          },
          "layer": [
            {"mark": {"type": "line", "color": "#333333", "strokeWidth": 1.1}},
            {"mark": {"type": "circle", "color": "#333333", "opacity": 1, "size": 64}}
          ]
        }
      ]
    }
  ],
  "config": {
    "font": "DejaVu Sans",
    "locale": {"number": {"decimal": ".", "thousands": ",", "grouping": [3], "currency": ["$", ""], "minus": "-"}},
    "view": {"stroke": "#4A4A4A", "strokeWidth": 1.5, "fill": "#FFFFFF"},
    "axis": {
      "domain": false,
      "grid": false,
      "ticks": true,
      "tickColor": "#333333",
      "tickSize": 5,
      "labelColor": "#222222",
      "labelFontSize": 15.5,
      "labelPadding": 3,
      "titleColor": "#111111",
      "titleFontSize": 17,
      "titleFontWeight": "normal",
      "titleBaseline": "alphabetic"
    },
    "title": {"fontSize": 20.3, "fontWeight": "bold", "color": "#000000", "frame": "group", "baseline": "alphabetic"}
  }
}
